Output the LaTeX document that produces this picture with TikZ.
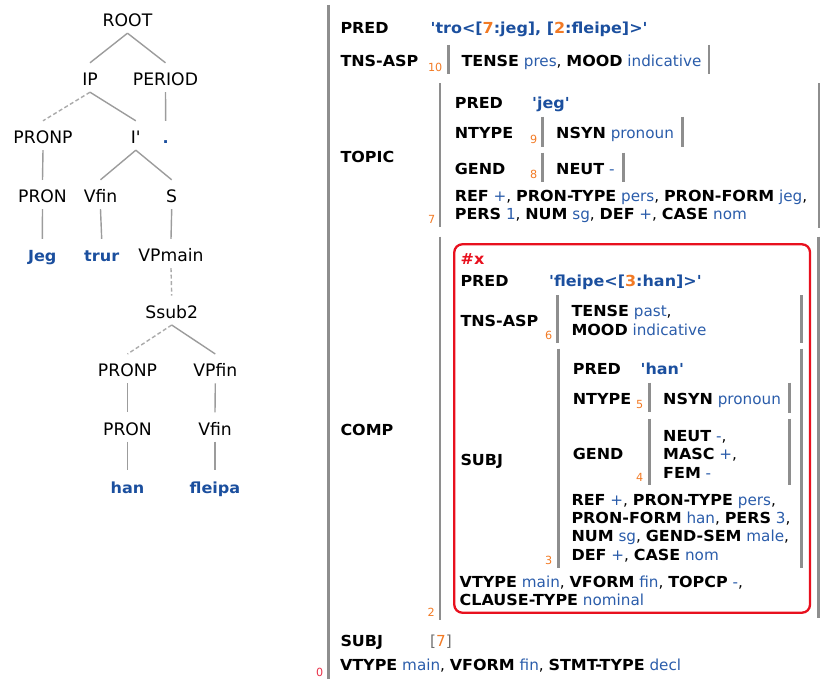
\documentclass[tikz,border=0pt]{standalone}
\usepackage{fontspec}
\newfontfamily\fsfont{DejaVu Sans}[BoldFeatures={FakeStretch=1.05}]
\definecolor{valblue}{HTML}{2A5CAA}
\definecolor{predblue}{HTML}{1B4F9E}
\definecolor{idxorange}{HTML}{F27A24}
\definecolor{boxred}{HTML}{E8101E}
\definecolor{rootred}{HTML}{E83048}
\definecolor{bargray}{HTML}{8E8E8E}
\definecolor{linegray}{HTML}{9C9C9C}
\definecolor{brgray}{HTML}{6E6E6E}
\newcommand\fsattr[1]{\textbf{#1}}
\newcommand\fsval[1]{\textcolor{valblue}{#1}}
\newcommand\fsref[1]{\textcolor{idxorange}{#1}}
\newcommand\fspred[1]{\textcolor{predblue}{\textbf{#1}}}
\begin{document}
\begin{tikzpicture}[x=1pt,y=-1pt,
  tree/.style={font=\fsfont\fontsize{17.2}{20}\selectfont, inner sep=0pt,
    text height=22.5pt, text depth=6.5pt, anchor=base},
  leaf/.style={tree, font=\fsfont\fontsize{15.3}{18}\selectfont\bfseries, text=predblue},
  edge/.style={draw=linegray, line width=1.4pt},
  dedge/.style={draw=linegray!85, line width=1.4pt, dash pattern=on 4pt off 2.5pt},
  fs/.style={font=\fsfont\fontsize{15.2}{18}\selectfont, inner sep=0pt, anchor=base west},
  fsidx/.style={font=\fsfont\fontsize{11.2}{13}\selectfont, text=idxorange, inner sep=0pt, anchor=base east},
  bar/.style={draw=bargray, line width=2.8pt}]
\useasboundingbox (0,0) rectangle (825,679);

% ---------- c-structure tree ----------
\node[tree] (root)   at (127.5,26.5) {ROOT};
\node[tree] (ip)     at (90,85.5)    {IP};
\node[tree] (period) at (165.5,85.5) {PERIOD};
\node[tree] (pronp)  at (43,143.5)   {PRONP};
\node[tree] (ibar)   at (135.8,143.5) {I'};
\node[leaf] (dot)    at (165.7,143.5) {.};
\node[tree] (pron)   at (42.5,202.5) {PRON};
\node[tree] (vfin)   at (100.5,202.5) {Vfin};
\node[tree] (s)      at (171.7,202.5) {S};
\node[leaf] (jeg)    at (42.3,261.5) {Jeg};
\node[leaf] (trur)   at (101.7,261.5) {trur};
\node[tree] (vpmain) at (171,261.5)  {VPmain};
\node[tree] (ssub)   at (171.7,318.3) {Ssub2};
\node[tree] (pronpb) at (127.5,376.7) {PRONP};
\node[tree] (vpfin)  at (215.3,376.7) {VPfin};
\node[tree] (pronb)  at (127.5,435)  {PRON};
\node[tree] (vfinb)  at (215,435)    {Vfin};
\node[leaf] (han)    at (127.5,493)  {han};
\node[leaf] (fleipa) at (215,493)    {fleipa};

\draw[edge]  (root.south)   -- (ip.north);
\draw[edge]  (root.south)   -- (period.north);
\draw[dedge] (ip.south)     -- (pronp.north);
\draw[edge]  (ip.south)     -- (ibar.north);
\draw[edge]  (period.south) -- (dot.north);
\draw[edge]  (pronp.south)  -- (pron.north);
\draw[edge]  (ibar.south)   -- (vfin.north);
\draw[edge]  (ibar.south)   -- (s.north);
\draw[edge]  (pron.south)   -- (jeg.north);
\draw[edge]  (vfin.south)   -- (trur.north);
\draw[edge]  (s.south)      -- (vpmain.north);
\draw[dedge] (vpmain.south) -- (ssub.north);
\draw[dedge] (ssub.south)   -- (pronpb.north);
\draw[edge]  (ssub.south)   -- (vpfin.north);
\draw[edge]  (pronpb.south) -- (pronb.north);
\draw[edge]  (vpfin.south)  -- (vfinb.north);
\draw[edge]  (pronb.south)  -- (han.north);
\draw[edge]  (vfinb.south)  -- (fleipa.north);

% ---------- f-structure brackets ----------
\draw[bar] (328.3,5) -- (328.3,685);          % outer
\draw[bar] (448.3,45) -- (448.3,74);          % TNS-ASP
\draw[bar] (709,45) -- (709,74);
\draw[bar] (440,83.3) -- (440,226.7);         % TOPIC
\draw[bar] (819,83.3) -- (819,228.3);
\draw[bar] (542.7,116.7) -- (542.7,146.7);    % TOPIC NTYPE
\draw[bar] (682.7,116.7) -- (682.7,146.7);
\draw[bar] (542.7,152.7) -- (542.7,181.7);    % TOPIC GEND
\draw[bar] (623.3,152.7) -- (623.3,181.7);
\draw[bar] (440,236.7) -- (440,620);          % COMP
\draw[bar] (818.3,236.7) -- (818.3,618.3);
\draw[bar] (557.7,295) -- (557.7,343.3);      % COMP TNS-ASP
\draw[bar] (801.7,295) -- (801.7,343.3);
\draw[bar] (558.3,348.5) -- (558.3,568.3);    % COMP SUBJ
\draw[bar] (801.7,348.5) -- (801.7,568.3);
\draw[bar] (649.3,382.7) -- (649.3,412);      % SUBJ NTYPE
\draw[bar] (789.3,382.7) -- (789.3,412.7);
\draw[bar] (649.3,418.5) -- (649.3,485);      % SUBJ GEND
\draw[bar] (789.3,418.5) -- (789.3,485);
\draw[draw=boxred, line width=2.3pt, rounded corners=8pt]
  (454.3,244.3) rectangle (810,612.7);

% ---------- outer f-structure ----------
\node[fs] (opred) at (340.3,33.3) {\fsattr{PRED}};
\node[fs] (opredv) at (430.5,33.3) {\fspred{'tro<[\fsref{7}:jeg], [\fsref{2}:fleipe]>'}};
\node[fs] (otns) at (340.3,66.7) {\fsattr{TNS-ASP}};
\node[fsidx] (i10) at (442.5,71.5) {10};
\node[fs] (otnsv) at (461.3,66.7) {\fsattr{TENSE} \fsval{pres}, \fsattr{MOOD} \fsval{indicative}};

\node[fs] (otopic) at (340.3,162.7) {\fsattr{TOPIC}};
\node[fsidx] (i7) at (435.5,224) {7};
\node[fs] (tpred) at (454.6,108.3) {\fsattr{PRED}};
\node[fs] (tpredv) at (532,108.3) {\fspred{'jeg'}};
\node[fs] (tntype) at (454.6,139) {\fsattr{NTYPE}};
\node[fsidx] (i9) at (537.5,143.5) {9};
\node[fs] (tntypev) at (556,139) {\fsattr{NSYN} \fsval{pronoun}};
\node[fs] (tgend) at (454.6,175) {\fsattr{GEND}};
\node[fsidx] (i8) at (537.5,179) {8};
\node[fs] (tgendv) at (556,175) {\fsattr{NEUT} \fsval{-}};
\node[fs] (tref) at (454.6,201.7) {\fsattr{REF} \fsval{+}, \fsattr{PRON-TYPE} \fsval{pers}, \fsattr{PRON-FORM} \fsval{jeg},};
\node[fs] (tpers) at (454.6,220) {\fsattr{PERS} \fsval{1}, \fsattr{NUM} \fsval{sg}, \fsattr{DEF} \fsval{+}, \fsattr{CASE} \fsval{nom}};

\node[fs] (ocomp) at (340.3,435.5) {\fsattr{COMP}};
\node[fsidx] (i2) at (435,616) {2};

% ---------- COMP contents ----------
\node[fs] (cx) at (460.5,265) {\textcolor{boxred}{\textbf{\#x}}};
\node[fs] (cpred) at (460.3,286.7) {\fsattr{PRED}};
\node[fs] (cpredv) at (549,286.7) {\fspred{'fleipe<[\fsref{3}:han]>'}};
\node[fs] (ctns) at (460.3,326.7) {\fsattr{TNS-ASP}};
\node[fsidx] (i6) at (552.5,339.5) {6};
\node[fs] (ctnsa) at (571.3,316.7) {\fsattr{TENSE} \fsval{past},};
\node[fs] (ctnsb) at (571.3,335) {\fsattr{MOOD} \fsval{indicative}};
\node[fs] (csubj) at (460.3,465) {\fsattr{SUBJ}};
\node[fsidx] (i3) at (552.5,564) {3};

\node[fs] (spred) at (572.6,374.3) {\fsattr{PRED}};
\node[fs] (spredv) at (640.5,374.3) {\fspred{'han'}};
\node[fs] (sntype) at (572.6,404.3) {\fsattr{NTYPE}};
\node[fsidx] (i5) at (643.5,408.5) {5};
\node[fs] (sntypev) at (663,404.3) {\fsattr{NSYN} \fsval{pronoun}};
\node[fs] (sgend) at (572.6,459) {\fsattr{GEND}};
\node[fsidx] (i4) at (643.5,481.5) {4};
\node[fs] (sgenda) at (663,441) {\fsattr{NEUT} \fsval{-},};
\node[fs] (sgendb) at (663,459.5) {\fsattr{MASC} \fsval{+},};
\node[fs] (sgendc) at (663,478) {\fsattr{FEM} \fsval{-}};
\node[fs] (srefa) at (571.3,505) {\fsattr{REF} \fsval{+}, \fsattr{PRON-TYPE} \fsval{pers},};
\node[fs] (srefb) at (571.3,523.3) {\fsattr{PRON-FORM} \fsval{han}, \fsattr{PERS} \fsval{3},};
\node[fs] (srefc) at (571.3,541.7) {\fsattr{NUM} \fsval{sg}, \fsattr{GEND-SEM} \fsval{male},};
\node[fs] (srefd) at (571.3,560) {\fsattr{DEF} \fsval{+}, \fsattr{CASE} \fsval{nom}};

\node[fs] (cvtype) at (459.5,587.3) {\fsattr{VTYPE} \fsval{main}, \fsattr{VFORM} \fsval{fin}, \fsattr{TOPCP} \fsval{-},};
\node[fs] (cclause) at (459.5,605.3) {\fsattr{CLAUSE-TYPE} \fsval{nominal}};

% ---------- outer f-structure, last rows ----------
\node[fs] (osubj) at (340.3,646.7) {\fsattr{SUBJ}};
\node[fs] (osubjv) at (430,646.7) {\textcolor{brgray}{[}\fsref{7}\textcolor{brgray}{]}};
\node[fs] (ovtype) at (339.8,670) {\fsattr{VTYPE} \fsval{main}, \fsattr{VFORM} \fsval{fin}, \fsattr{STMT-TYPE} \fsval{decl}};
\node[fsidx, text=rootred] (i0) at (323.5,676) {0};
\end{tikzpicture}
\end{document}
